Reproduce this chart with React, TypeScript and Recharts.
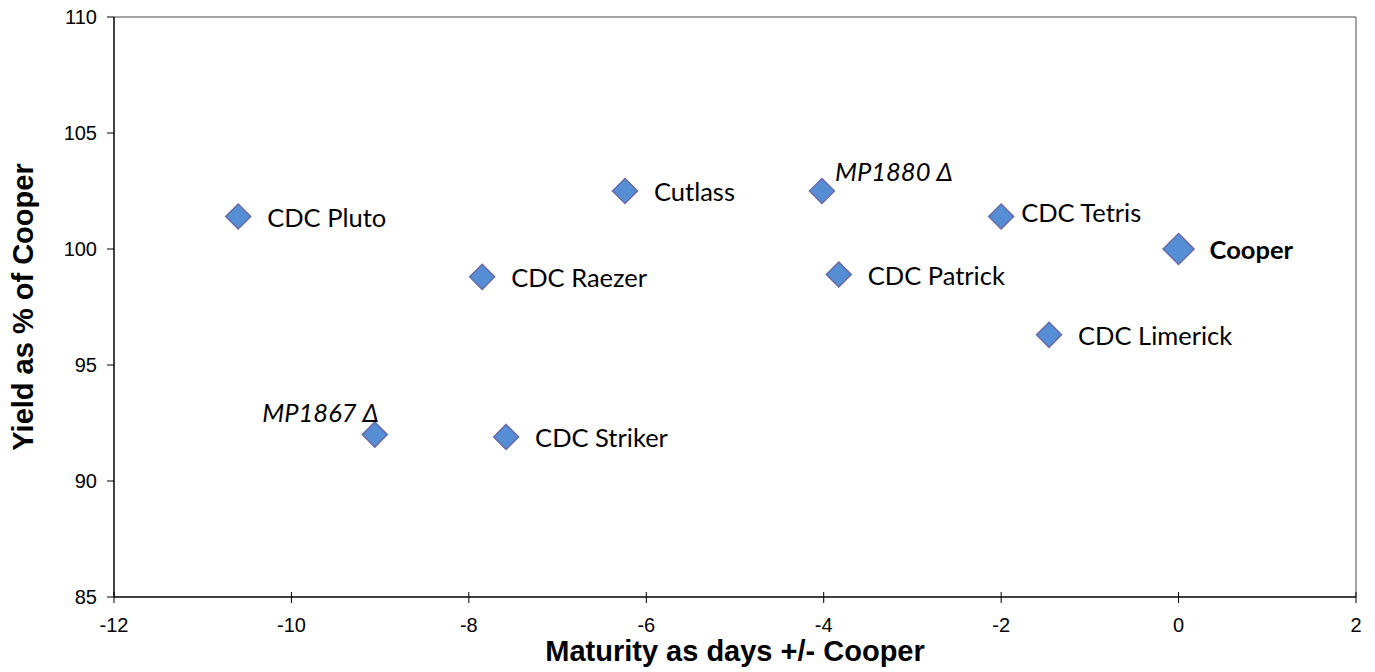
import React from 'react';
import { ScatterChart, Scatter, XAxis, YAxis, ReferenceLine } from 'recharts';

const varieties = ['CDC Pluto', 'Cutlass', 'MP1880 Δ', 'CDC Tetris', 'Cooper', 'CDC Raezer', 'CDC Patrick', 'CDC Limerick', 'MP1867 Δ', 'CDC Striker'];
const maturityDays = [-10.6, -6.24, -4.02, -2.0, 0, -7.85, -3.83, -1.46, -9.06, -7.58];
const yieldPct = [101.4, 102.5, 102.5, 101.4, 100, 98.8, 98.9, 96.3, 92.0, 91.9];
const xTicks = [-12, -10, -8, -6, -4, -2, 0, 2];
const yTicks = [85, 90, 95, 100, 105, 110];

const data = varieties.map((name, i) => ({ name, x: maturityDays[i], y: yieldPct[i] }));

type LabelStyle = { dx: number; dy: number; anchor?: 'start' | 'end'; italic?: boolean; bold?: boolean; big?: boolean };
const labelStyles: Record<string, LabelStyle> = {
  'MP1880 Δ': { dx: 13, dy: -19, italic: true },
  'MP1867 Δ': { dx: 4, dy: -22, anchor: 'end', italic: true },
  'CDC Tetris': { dx: 20, dy: -4 },
  'Cooper': { dx: 31, dy: 1, bold: true, big: true },
};

const LABEL_FONT = 'Lato, "Open Sans", sans-serif';
const AXIS_FONT = '"Liberation Sans", Arial, sans-serif';

const DiamondShape = (props: any) => {
  const { cx, cy, payload } = props;
  if (cx == null || cy == null) return null;
  const st: LabelStyle = labelStyles[payload.name] || { dx: 29, dy: 1 };
  const r = st.big ? 15.5 : 12.5;
  return (
    <g>
      <path
        d={`M${cx},${cy - r} L${cx + r},${cy} L${cx},${cy + r} L${cx - r},${cy} Z`}
        fill="#558ED5"
        stroke="#6A6AA6"
        strokeWidth={1.5}
      />
      <text
        x={cx + st.dx}
        y={cy + st.dy + 9}
        textAnchor={st.anchor || 'start'}
        fontFamily={LABEL_FONT}
        fontSize={25.5}
        fontStyle={st.italic ? 'italic' : 'normal'}
        fontWeight={st.bold ? 'bold' : 'normal'}
        fill="#000"
      >
        {payload.name}
      </text>
    </g>
  );
};

const XTick = (props: any) => {
  const { x, y, payload } = props;
  return (
    <g>
      <line x1={x} y1={y - 5} x2={x} y2={y + 6} stroke="#000" strokeWidth={1} />
      <text x={x} y={y + 35} textAnchor="middle" fontFamily={AXIS_FONT} fontSize={20} fill="#000">
        {payload.value}
      </text>
    </g>
  );
};

export default function App() {
  return (
    <div style={{ position: 'absolute', left: 0, top: 0, width: 1375, height: 672, background: '#fff' }}>
      <ScatterChart width={1375} height={672} margin={{ top: 17, right: 19, bottom: 0, left: 0 }}>
        <XAxis
          type="number"
          dataKey="x"
          domain={[-12, 2]}
          ticks={xTicks}
          interval={0}
          allowDataOverflow
          height={75}
          tickSize={0}
          tickMargin={0}
          tickLine={false}
          axisLine={{ stroke: '#000', strokeWidth: 1.5 }}
          tick={<XTick />}
          label={{
            value: 'Maturity as days +/- Cooper',
            position: 'insideBottom',
            offset: 11,
            style: { fontFamily: AXIS_FONT, fontSize: 29, fontWeight: 'bold', fill: '#000' },
          }}
        />
        <YAxis
          type="number"
          dataKey="y"
          domain={[85, 110]}
          ticks={yTicks}
          interval={0}
          allowDataOverflow
          width={114}
          tickSize={7}
          tickMargin={10}
          tickLine={{ stroke: '#000' }}
          axisLine={{ stroke: '#000', strokeWidth: 1.5 }}
          tick={{ fontFamily: AXIS_FONT, fontSize: 20, fill: '#000' }}
          label={{
            value: 'Yield as % of Cooper',
            angle: -90,
            position: 'insideLeft',
            offset: 23,
            style: { textAnchor: 'middle', fontFamily: AXIS_FONT, fontSize: 29, fontWeight: 'bold', fill: '#000' },
          }}
        />
        <ReferenceLine y={110} stroke="#868686" strokeWidth={1.5} />
        <ReferenceLine x={2} stroke="#868686" strokeWidth={1.5} />
        <Scatter data={data} shape={<DiamondShape />} isAnimationActive={false} />
      </ScatterChart>
    </div>
  );
}
